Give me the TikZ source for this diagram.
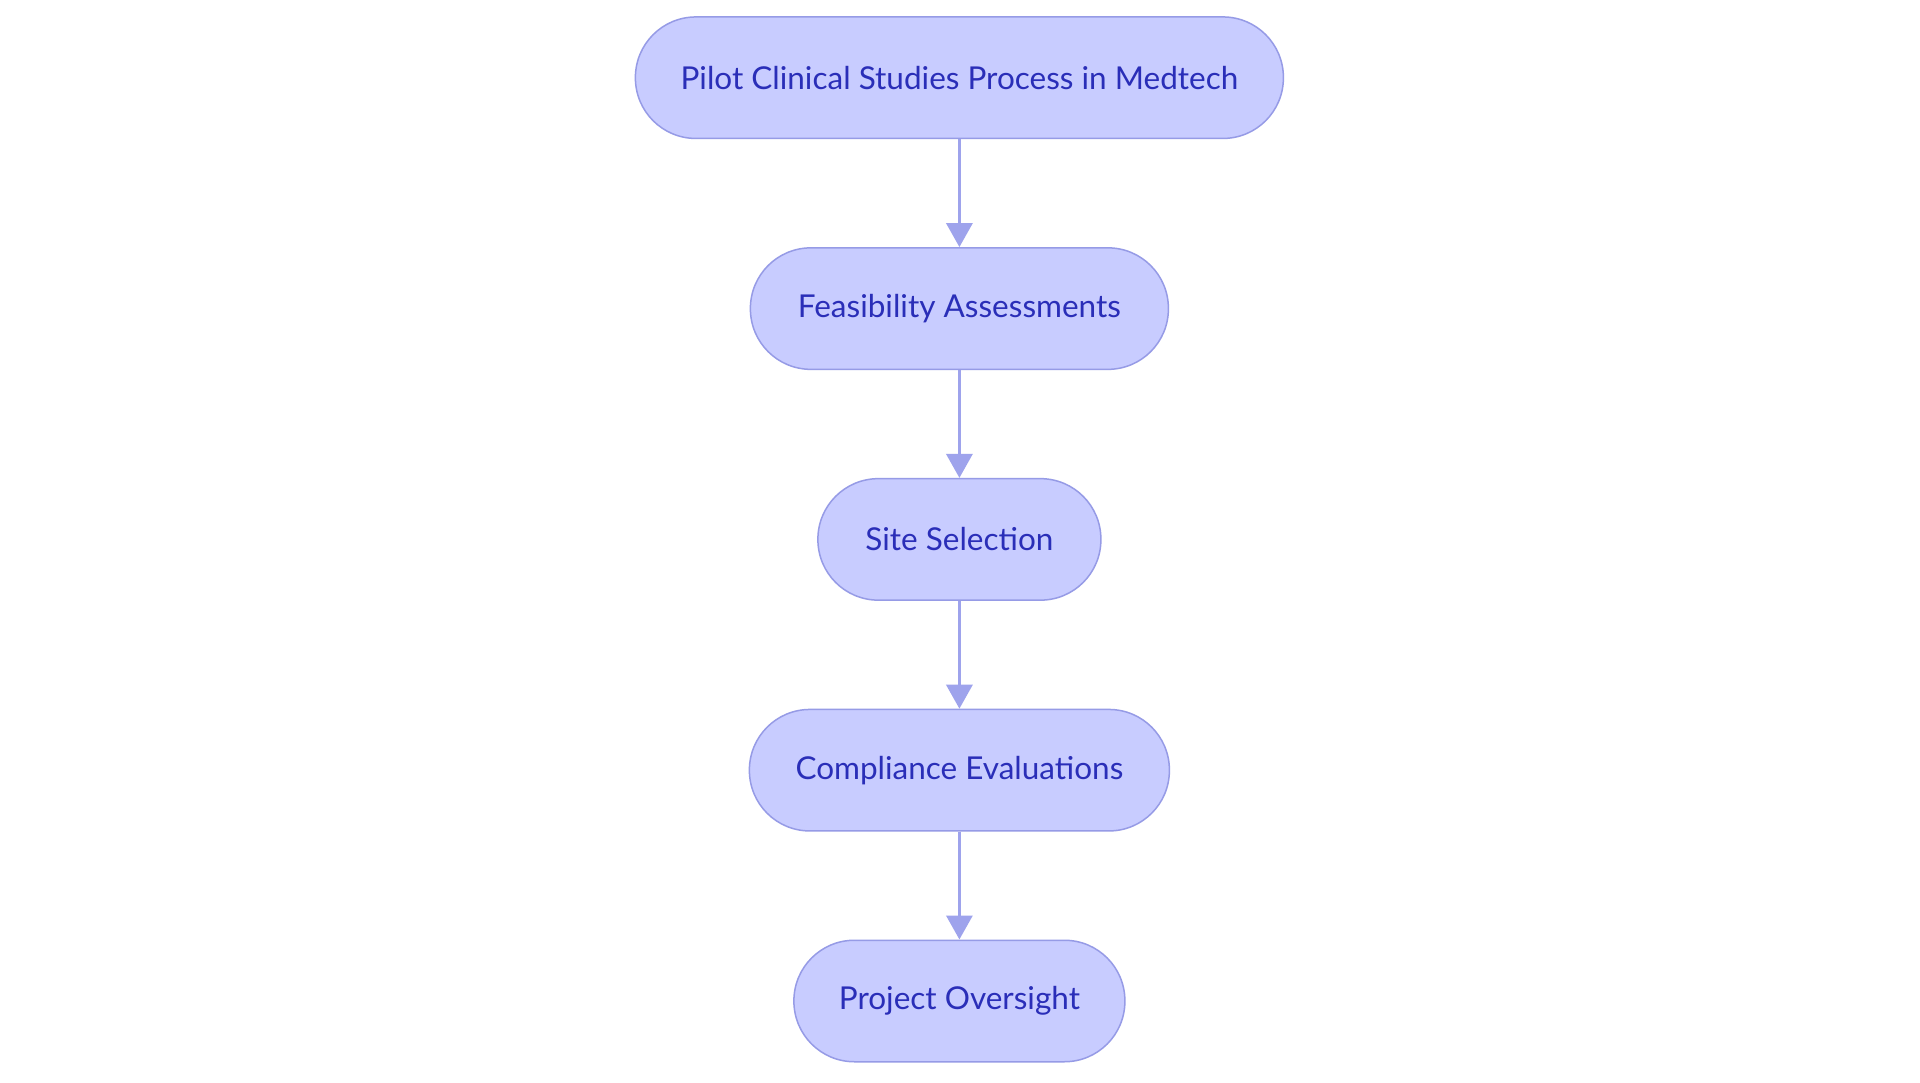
\documentclass[tikz,border=0pt]{standalone}
\usepackage{fontspec}
\setmainfont{Lato}
\usetikzlibrary{arrows.meta}
\definecolor{nodefill}{RGB}{200,204,255}
\definecolor{nodedraw}{RGB}{150,155,230}
\definecolor{nodetext}{RGB}{42,46,184}
\definecolor{edgecol}{RGB}{158,163,236}
\begin{document}
\begin{tikzpicture}[x=1pt,y=-1pt,
  stadium/.style={draw=nodedraw, fill=nodefill, line width=1.5pt, rounded corners=60.5pt,
    minimum height=121.5pt, inner sep=0pt, text=nodetext, font=\fontsize{31.5}{36}\selectfont},
  flow/.style={draw=edgecol, line width=3.3pt, -{Triangle[width=26pt,length=24pt]}}]
\useasboundingbox (0,0) rectangle (1920,1083);
\fill[white] (0,0) rectangle (1920,1083);
\node[stadium, minimum width=648pt] (a) at (959.4,77.7) {Pilot Clinical Studies Process in Medtech};
\node[stadium, minimum width=418pt] (b) at (959.4,308.6) {Feasibility Assessments};
\node[stadium, minimum width=283pt] (c) at (959.4,539.4) {Site Selection};
\node[stadium, minimum width=420pt] (d) at (959.4,770.2) {Compliance Evaluations};
\node[stadium, minimum width=331pt] (e) at (959.4,1001) {Project Oversight};
\draw[flow] (a) -- (b);
\draw[flow] (b) -- (c);
\draw[flow] (c) -- (d);
\draw[flow] (d) -- (e);
\end{tikzpicture}
\end{document}
